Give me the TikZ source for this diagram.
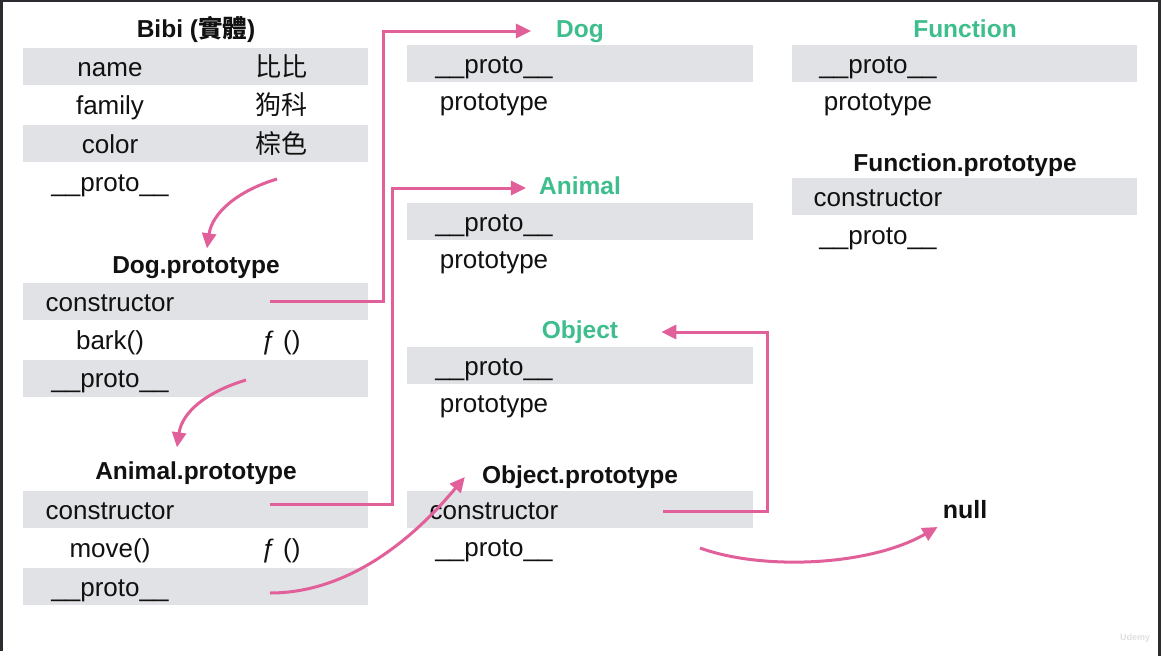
\documentclass[tikz,border=0pt]{standalone}
\usepackage{fontspec}
\setmainfont{Liberation Sans}
\newfontfamily\cjk{Noto Sans CJK TC}
\usetikzlibrary{arrows.meta}
\definecolor{bandgray}{HTML}{E1E2E5}
\definecolor{linkpink}{HTML}{E2609A}
\definecolor{clsgreen}{HTML}{3DBE8C}
\definecolor{framegray}{HTML}{2B2B30}
\definecolor{inkblack}{HTML}{111111}

\begin{document}
\begin{tikzpicture}[x=1pt,y=-1pt]
\tikzset{band/.style = {fill=bandgray, minimum width=345pt, minimum height=37pt, inner sep=0pt}}
\tikzset{key/.style = {font=\fontsize{26}{30}\selectfont, text=inkblack, inner sep=0pt, text height=18pt, text depth=5pt}}
\tikzset{head/.style = {key, font=\fontsize{24.5}{28}\selectfont\bfseries}}
\tikzset{cls/.style = {head, text=clsgreen}}
\tikzset{link/.style = {draw=linkpink, line width=3pt, -{Triangle[length=15pt,width=14pt]}}}

\useasboundingbox (0,0) rectangle (1161,656);
\fill[white] (0,0) rectangle (1161,656);
\fill[framegray] (0,0) rectangle (3,651);
\fill[framegray] (0,0) rectangle (1161,2);
\fill[framegray] (1158,0) rectangle (1161,656);

% Bibi
\node[head] (bibi) at (196,31) {Bibi ({\cjk 實體})};
\node[band] (bibiB1) at (195.5,66) {};
\node[band] (bibiB3) at (195.5,143) {};
    \node[key] (bibiName) at (110,69.5) {name};
    \node[key] (bibiNameV) at (281,69.5) {\cjk 比比};
    \node[key] (bibiFam) at (110,108) {family};
    \node[key] (bibiFamV) at (281,108) {\cjk 狗科};
    \node[key] (bibiCol) at (110,146.5) {color};
    \node[key] (bibiColV) at (281,146.5) {\cjk 棕色};
    \node[key] (bibiProto) at (110,185) {\_\_proto\_\_};

% Dog.prototype
\node[head] (dogp) at (196,267) {Dog.prototype};
\node[band] (dogpB1) at (195.5,301.5) {};
\node[band] (dogpB3) at (195.5,378.5) {};
    \node[key] (dogpCon) at (110,304.5) {constructor};
    \node[key] (dogpBark) at (110,343) {bark()};
    \node[key] (dogpBarkV) at (281,343) {ƒ ()};
    \node[key] (dogpProto) at (110,381) {\_\_proto\_\_};

% Animal.prototype
\node[head] (animalp) at (196,473) {Animal.prototype};
\node[band] (animalpB1) at (195.5,509.5) {};
\node[band] (animalpB3) at (195.5,586.5) {};
    \node[key] (animalpCon) at (110,513) {constructor};
    \node[key] (animalpMove) at (110,551) {move()};
    \node[key] (animalpMoveV) at (281,551) {ƒ ()};
    \node[key] (animalpProto) at (110,590) {\_\_proto\_\_};

% Dog
\node[cls] (dog) at (580,31) {Dog};
\node[band, minimum width=346pt] (dogB1) at (580,63) {};
    \node[key] (dogProto) at (494,66.5) {\_\_proto\_\_};
    \node[key] (dogPt) at (494,104) {prototype};

% Animal
\node[cls] (animal) at (580,188) {Animal};
\node[band, minimum width=346pt] (animalB1) at (580,221) {};
    \node[key] (animalProto) at (494,224.5) {\_\_proto\_\_};
    \node[key] (animalPt) at (494,262) {prototype};

% Object
\node[cls] (object) at (580,332) {Object};
\node[band, minimum width=346pt] (objectB1) at (580,365) {};
    \node[key] (objectProto) at (494,368.5) {\_\_proto\_\_};
    \node[key] (objectPt) at (494,406) {prototype};

% Object.prototype
\node[head] (objectp) at (580,477) {Object.prototype};
\node[band, minimum width=346pt] (objectpB1) at (580,509) {};
    \node[key] (objectpCon) at (494,512.5) {constructor};
    \node[key] (objectpProto) at (494,550) {\_\_proto\_\_};

% Function
\node[cls] (func) at (965,31) {Function};
\node[band] (funcB1) at (964.5,63) {};
    \node[key] (funcProto) at (878,66.5) {\_\_proto\_\_};
    \node[key] (funcPt) at (878,104) {prototype};

% Function.prototype
\node[head] (funcp) at (965,165) {Function.prototype};
\node[band] (funcpB1) at (964.5,196) {};
    \node[key] (funcpCon) at (878,199.5) {constructor};
    \node[key] (funcpProto) at (878,238) {\_\_proto\_\_};

\node[head, font=\fontsize{25}{28}\selectfont\bfseries] (null) at (965,512) {null};
\node[text=black!12, font=\fontsize{9}{10}\selectfont\bfseries, inner sep=0pt] (udemy) at (1135,638) {Udemy};

\coordinate (bibiS) at (277,179);
\coordinate (dogpConS) at (270,301);
\coordinate (dogpProtoS) at (246,380);
\coordinate (animalpConS) at (270,504);
\coordinate (animalpProtoS) at (270,593);
\coordinate (objectpConS) at (663,511);
\coordinate (objectpProtoS) at (700,548);

\draw[link] (bibiS) .. controls +(-40,12) and +(5,-35) .. ([xshift=11pt,yshift=7pt]dogp.north);
\draw[link] (dogpProtoS) .. controls +(-40,12) and +(5,-35) .. ([xshift=-19pt,yshift=14pt]animalp.north);
\draw[link] (dogpConS) -- ++(113,0) |- ([xshift=-25pt]dog.west);
\draw[link] (animalpConS) -- ++(122,0) |- ([xshift=-13pt]animal.west);
\draw[link] (animalpProtoS) .. controls +(80,0) and +(-50,60) .. ([xshift=-17pt]objectp.west);
\draw[link] (objectpConS) -- ++(104,0) |- ([xshift=43pt]object.east);
\draw[link] (objectpProtoS) .. controls +(60,22) and +(-70,40) .. ([xshift=-5pt,yshift=-15pt]null.west);

\end{tikzpicture}
\end{document}
